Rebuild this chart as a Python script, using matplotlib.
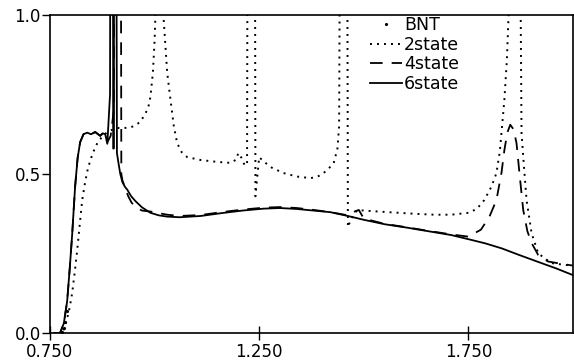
import matplotlib
matplotlib.use("Agg")
import matplotlib.pyplot as plt

# ---- data ----
x_bnt = [0.779, 0.783, 0.787, 0.791]
y_bnt = [0.004, 0.015, 0.035, 0.07]

x_2state = [0.770, 0.780, 0.790, 0.797, 0.803, 0.809, 0.815, 0.821, 0.827, 0.834,
            0.841, 0.852, 0.863, 0.875, 0.887, 0.900, 0.915, 0.935, 0.950, 0.966,
            0.978, 0.985, 0.990, 0.996, 1.000, 1.002, 1.004, 1.019, 1.021, 1.030,
            1.038, 1.046, 1.054, 1.065, 1.078, 1.110, 1.150, 1.181, 1.195, 1.200,
            1.208, 1.215, 1.221, 1.2225, 1.2395, 1.241, 1.246, 1.250, 1.260, 1.280,
            1.308, 1.340, 1.373, 1.390, 1.404, 1.418, 1.428, 1.437, 1.441, 1.444,
            1.460, 1.462, 1.470, 1.480, 1.486, 1.500, 1.558, 1.620, 1.668, 1.709,
            1.750, 1.770, 1.788, 1.805, 1.817, 1.825, 1.829, 1.836, 1.842, 1.846,
            1.848, 1.873, 1.875, 1.877, 1.883, 1.889, 1.901, 1.917, 1.948, 1.975,
            2.000]
y_2state = [0.0, 0.0, 0.04, 0.08, 0.126, 0.19, 0.26, 0.34, 0.418, 0.475,
            0.52, 0.565, 0.597, 0.618, 0.632, 0.640, 0.645, 0.645, 0.650, 0.664,
            0.69, 0.71, 0.742, 0.82, 0.92, 1.0, 1.6, 1.6, 1.0, 0.82,
            0.733, 0.65, 0.597, 0.568, 0.553, 0.544, 0.538, 0.535, 0.545, 0.566,
            0.55, 0.528, 0.528, 1.6, 1.6, 0.43, 0.50, 0.553, 0.54, 0.52,
            0.503, 0.492, 0.487, 0.492, 0.503, 0.52, 0.534, 0.58, 0.65, 1.6,
            1.6, 0.333, 0.36, 0.38, 0.387, 0.385, 0.380, 0.375, 0.372, 0.372,
            0.378, 0.39, 0.418, 0.46, 0.503, 0.57, 0.629, 0.733, 0.86, 1.0,
            1.6, 1.6, 1.0, 0.629, 0.52, 0.418, 0.314, 0.25, 0.22, 0.215,
            0.212]

x_4state = [0.760, 0.774, 0.783, 0.791, 0.797, 0.803, 0.810, 0.816, 0.822, 0.830,
            0.839, 0.848, 0.858, 0.865, 0.870, 0.876, 0.882, 0.887, 0.895, 0.9025,
            0.904, 0.919, 0.9205, 0.923, 0.930, 0.937, 0.945, 0.955, 0.970, 0.990,
            1.010, 1.030, 1.060, 1.110, 1.160, 1.210, 1.260, 1.300, 1.340, 1.380,
            1.420, 1.445, 1.462, 1.474, 1.488, 1.500, 1.550, 1.600, 1.650, 1.709,
            1.750, 1.780, 1.800, 1.817, 1.829, 1.836, 1.843, 1.850, 1.858, 1.865,
            1.872, 1.881, 1.891, 1.901, 1.917, 1.940, 1.970, 2.000]
y_4state = [0.0, 0.0, 0.03, 0.10, 0.20, 0.31, 0.46, 0.55, 0.60, 0.625,
            0.630, 0.625, 0.632, 0.625, 0.620, 0.628, 0.625, 0.600, 0.62, 0.70,
            1.6, 1.6, 0.50, 0.48, 0.455, 0.430, 0.41, 0.395, 0.385, 0.382,
            0.377, 0.372, 0.368, 0.371, 0.380, 0.388, 0.394, 0.396, 0.393, 0.387,
            0.380, 0.374, 0.370, 0.380, 0.387, 0.360, 0.343, 0.333, 0.322, 0.310,
            0.303, 0.325, 0.365, 0.418, 0.503, 0.575, 0.630, 0.655, 0.640, 0.597,
            0.503, 0.387, 0.320, 0.283, 0.245, 0.225, 0.218, 0.212]

x_6state = [0.760, 0.774, 0.783, 0.791, 0.797, 0.803, 0.810, 0.816, 0.822, 0.830,
            0.839, 0.848, 0.858, 0.865, 0.870, 0.876, 0.882, 0.887, 0.8935, 0.8945,
            0.900, 0.9012, 0.9025, 0.9035, 0.908, 0.910, 0.913, 0.918, 0.923, 0.929,
            0.935, 0.944, 0.954, 0.970, 0.990, 1.010, 1.030, 1.060, 1.110, 1.160,
            1.210, 1.260, 1.300, 1.340, 1.380, 1.420, 1.462, 1.500, 1.550, 1.600,
            1.650, 1.709, 1.750, 1.790, 1.830, 1.870, 1.920, 1.960, 2.000]
y_6state = [0.0, 0.0, 0.03, 0.10, 0.20, 0.31, 0.46, 0.55, 0.60, 0.625,
            0.630, 0.625, 0.632, 0.625, 0.620, 0.628, 0.625, 0.595, 0.75, 1.6,
            1.6, 0.58, 0.58, 1.6, 1.6, 0.566, 0.54, 0.50, 0.475, 0.46,
            0.450, 0.43, 0.415, 0.395, 0.378, 0.370, 0.366, 0.364, 0.368, 0.377,
            0.385, 0.391, 0.393, 0.390, 0.385, 0.380, 0.368, 0.356, 0.342, 0.332,
            0.321, 0.308, 0.295, 0.282, 0.266, 0.246, 0.222, 0.203, 0.182]

x_ticks = [0.75, 1.25, 1.75]
x_ticklabels = ["0.750", "1.250", "1.750"]
y_ticks = [0.0, 0.5, 1.0]
y_ticklabels = ["0.0", "0.5", "1.0"]

# ---- figure ----
fig = plt.figure(figsize=(5.74, 3.62), dpi=100)
ax = fig.add_axes([50 / 574, 29 / 362, 523 / 574, 318 / 362])

ax.plot(x_bnt, y_bnt, linestyle="none", marker=".", markersize=2.5, color="black", label="BNT")
ax.plot(x_2state, y_2state, linestyle=(0, (1, 2.6)), linewidth=1.4, color="black", label="2state")
ax.plot(x_4state, y_4state, linestyle=(0, (7, 5)), linewidth=1.3, color="black", label="4state")
ax.plot(x_6state, y_6state, linestyle="-", linewidth=1.3, color="black", label="6state")

ax.set_xlim(0.75, 2.0)
ax.set_ylim(0.0, 1.0)
ax.set_xticks(x_ticks)
ax.set_xticklabels(x_ticklabels)
ax.set_yticks(y_ticks)
ax.set_yticklabels(y_ticklabels)
ax.tick_params(axis="x", direction="inout", length=10, width=1.0, labelsize=12, pad=2.5)
ax.tick_params(axis="y", direction="out", length=6, width=1.0, labelsize=12, pad=0.5)
for s in ax.spines.values():
    s.set_linewidth(1.2)

leg = ax.legend(loc="upper left", bbox_to_anchor=(0.612, 0.997), frameon=False,
                fontsize=12.5, handlelength=1.85, handletextpad=0.1, labelspacing=0.1,
                borderpad=0.0, borderaxespad=0.0, numpoints=1)

fig.savefig("out.png", dpi=100)
